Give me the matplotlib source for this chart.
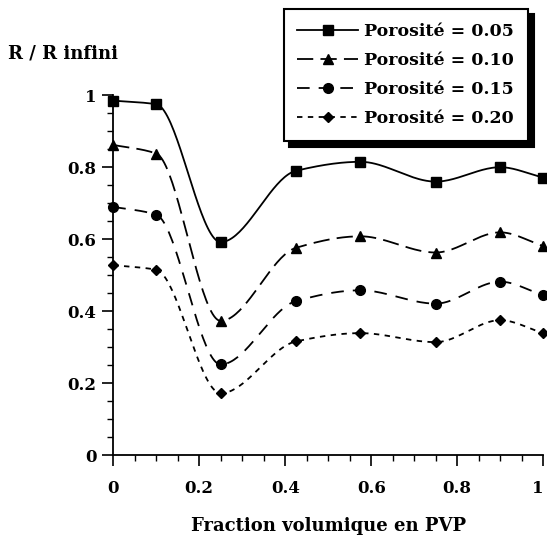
import numpy as np
import matplotlib
matplotlib.use("Agg")
import matplotlib.pyplot as plt
from matplotlib.ticker import MultipleLocator

# ── données ─────────────────────────────────────────────
fraction_pvp = [0.0, 0.1, 0.25, 0.425, 0.575, 0.75, 0.9, 1.0]
r_por_005 = [0.985, 0.975, 0.592, 0.790, 0.815, 0.760, 0.800, 0.771]
r_por_010 = [0.862, 0.838, 0.373, 0.576, 0.608, 0.563, 0.619, 0.581]
r_por_015 = [0.690, 0.668, 0.252, 0.428, 0.458, 0.421, 0.482, 0.444]
r_por_020 = [0.528, 0.515, 0.172, 0.316, 0.339, 0.314, 0.375, 0.339]
labels = ["Porosité = 0.05", "Porosité = 0.10", "Porosité = 0.15", "Porosité = 0.20"]


def courbe_lisse(x, y, n=40):
    """tracé lissé : Hermite cubique monotone (Fritsch-Carlson)"""
    x = np.asarray(x, float)
    y = np.asarray(y, float)
    h = np.diff(x)
    d = np.diff(y) / h
    m = np.zeros_like(y)
    for i in range(1, len(x) - 1):
        if d[i - 1] * d[i] > 0:
            w1 = 2 * h[i] + h[i - 1]
            w2 = h[i] + 2 * h[i - 1]
            m[i] = (w1 + w2) / (w1 / d[i - 1] + w2 / d[i])
    m[0] = d[0]
    m[-1] = d[-1]
    xs, ys = [], []
    for i in range(len(x) - 1):
        t = np.linspace(0, 1, n, endpoint=False)
        h00 = 2 * t**3 - 3 * t**2 + 1
        h10 = t**3 - 2 * t**2 + t
        h01 = -2 * t**3 + 3 * t**2
        h11 = t**3 - t**2
        xs.append(x[i] + t * h[i])
        ys.append(h00 * y[i] + h10 * h[i] * m[i] + h01 * y[i + 1] + h11 * h[i] * m[i + 1])
    xs.append([x[-1]])
    ys.append([y[-1]])
    return np.concatenate(xs), np.concatenate(ys)


plt.rcParams["font.family"] = ["DejaVu Serif"]
plt.rcParams["font.weight"] = "bold"

fig = plt.figure(figsize=(5.47, 5.38), dpi=100)
ax = fig.add_axes([0.207, 0.154, 0.786, 0.669])

series = [r_por_005, r_por_010, r_por_015, r_por_020]
markers = ["s", "^", "o", "D"]
msizes = [7, 7.5, 7, 5.5]
dashes = [None, (9, 4), (7, 5), (3, 3)]

for vals, mk, ms, ds, lab in zip(series, markers, msizes, dashes, labels):
    xs, ys = courbe_lisse(fraction_pvp, vals)
    ln, = ax.plot(xs, ys, color="black", lw=1.3, clip_on=False)
    if ds is not None:
        ln.set_dashes(ds)
    ax.plot(fraction_pvp, vals, linestyle="none", marker=mk, ms=ms,
            color="black", clip_on=False, zorder=3)
    # poignée de légende
    h, = ax.plot([], [], color="black", lw=1.3, marker=mk, ms=ms, label=lab)
    if ds is not None:
        h.set_dashes(ds)

ax.set_xlim(0, 1)
ax.set_ylim(0, 1)
ax.spines["top"].set_visible(False)
ax.spines["right"].set_visible(False)
for s in ["left", "bottom"]:
    ax.spines[s].set_linewidth(1.3)

ax.xaxis.set_minor_locator(MultipleLocator(0.05))
ax.yaxis.set_minor_locator(MultipleLocator(0.05))
ax.set_xticks([0, 0.2, 0.4, 0.6, 0.8, 1.0])
ax.set_xticklabels(["0", "0.2", "0.4", "0.6", "0.8", "1"])
ax.set_yticks([0, 0.2, 0.4, 0.6, 0.8, 1.0])
ax.set_yticklabels(["0", "0.2", "0.4", "0.6", "0.8", "1"])
ax.tick_params(which="major", direction="out", length=8, width=1.2,
               labelsize=12, pad=4)
ax.tick_params(which="minor", direction="out", length=4, width=1)
ax.tick_params(axis="x", which="major", pad=10)
ax.get_xticklabels()[-1].set_horizontalalignment("right")

ax.set_xlabel("Fraction volumique en PVP", fontsize=13, fontweight="bold", labelpad=14)
fig.text(0.015, 0.9, "R / R infini", fontsize=13, fontweight="bold",
         ha="left", va="center")

leg = ax.legend(loc="upper right", bbox_to_anchor=(0.985, 1.264), frameon=True,
                fancybox=False, shadow={"color": "black", "alpha": 1, "ox": 4, "oy": -4},
                handlelength=3.5, handletextpad=0.35, labelspacing=0.7,
                prop={"size": 12.5, "weight": "bold"}, borderpad=0.8)
leg.get_frame().set_edgecolor("black")
leg.get_frame().set_linewidth(1.5)

fig.savefig("out.png", dpi=100)
